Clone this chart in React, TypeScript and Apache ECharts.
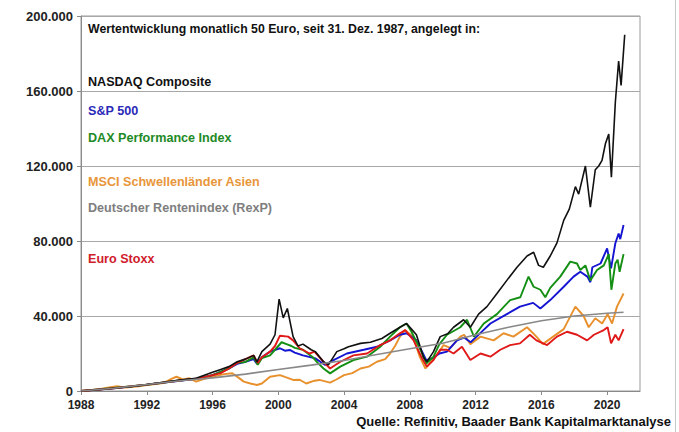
import React, { useEffect, useRef } from "react";
import * as echarts from "echarts";

// values in thousand euros, x = year (fractional)
const nasdaq: [number, number][] = [
  [1988.0, 0], [1989.0, 0.7], [1990.0, 1.5], [1991.0, 2.3], [1992.0, 3.5], [1993.0, 4.6], [1994.0, 5.8],
  [1995.0, 6.8], [1996.0, 10], [1996.5, 11.5], [1997.0, 13], [1997.5, 15.6], [1998.0, 17], [1998.5, 19],
  [1998.7, 15.5], [1999.0, 21], [1999.5, 25], [1999.8, 30], [2000.05, 49], [2000.3, 39], [2000.55, 44],
  [2000.9, 29], [2001.2, 24], [2001.5, 25], [2002.0, 22], [2002.25, 21], [2002.75, 15.6], [2003.05, 13.9],
  [2003.56, 21], [2004.0, 22.5], [2004.27, 23.6], [2005.0, 25.4], [2005.6, 26], [2006.3, 28], [2006.8, 30.8],
  [2007.4, 34], [2007.8, 36], [2008.1, 33], [2008.4, 30], [2008.83, 18], [2009.04, 15.6], [2009.44, 21],
  [2009.85, 29], [2010.3, 30.5], [2010.66, 34], [2011.27, 38], [2011.68, 34], [2012.18, 41], [2012.69, 45],
  [2013.3, 52], [2013.9, 59], [2014.52, 66], [2015.13, 72], [2015.53, 74], [2015.83, 67], [2016.12, 66],
  [2016.54, 72], [2016.95, 79], [2017.36, 91], [2017.7, 97], [2018.07, 109], [2018.27, 105], [2018.68, 120],
  [2018.98, 98], [2019.28, 118], [2019.49, 120], [2019.69, 123], [2019.9, 132], [2020.1, 137], [2020.26, 114],
  [2020.5, 154], [2020.7, 176], [2020.85, 163], [2021.07, 190],
];

const sp500: [number, number][] = [
  [1988, 0], [1990, 1.4], [1992, 3.4], [1994, 5.5], [1995, 6.5], [1996, 8.5], [1997, 12], [1997.5, 14.5],
  [1998.0, 15.5], [1998.5, 17], [1998.7, 14.5], [1999.0, 18], [1999.5, 21], [2000.1, 22.8], [2000.4, 21.5],
  [2000.7, 21.9], [2001.0, 20.5], [2001.5, 19], [2002.25, 17.4], [2002.85, 13.9], [2003.36, 16.5],
  [2004.17, 20], [2005.2, 22], [2006.0, 23.6], [2006.8, 27], [2007.4, 30], [2007.8, 30.8], [2008.4, 27],
  [2008.8, 20], [2009.0, 16.5], [2009.4, 17.5], [2009.8, 20], [2010.26, 21], [2010.87, 27], [2011.3, 28.5],
  [2011.7, 26], [2012.3, 31], [2012.9, 36], [2013.9, 41], [2014.7, 45], [2015.5, 47], [2015.94, 44],
  [2016.54, 48.5], [2017.36, 55.6], [2017.96, 61], [2018.37, 63.6], [2018.8, 61], [2018.98, 58],
  [2019.1, 66], [2019.6, 68], [2020.0, 76], [2020.24, 65.4], [2020.5, 78.8], [2020.7, 84], [2020.8, 81],
  [2021.0, 88.5],
];

const dax: [number, number][] = [
  [1988, 0], [1990, 1.6], [1992, 3.3], [1994, 5.6], [1995, 6.5], [1996, 8.5], [1997, 12], [1997.5, 15],
  [1998.0, 15.5], [1998.5, 18], [1998.75, 14], [1999.0, 17.5], [1999.5, 19], [1999.8, 22], [2000.2, 26],
  [2000.5, 25], [2000.8, 24], [2001.0, 23], [2001.5, 22], [2002.1, 18], [2002.4, 15], [2002.75, 12],
  [2003.15, 9.4], [2003.77, 13], [2004.57, 16.5], [2005.4, 18.3], [2006.2, 23.6], [2006.8, 29], [2007.4, 34],
  [2007.8, 36], [2008.1, 31.6], [2008.7, 21], [2009.0, 14.7], [2009.44, 18.3], [2009.8, 25], [2010.26, 30],
  [2011.07, 34], [2011.48, 38], [2011.9, 29], [2012.5, 36], [2013.3, 41], [2014.1, 48.5], [2014.72, 50],
  [2015.22, 61], [2015.53, 55.6], [2015.94, 54], [2016.24, 50], [2016.54, 55], [2017.15, 61], [2017.76, 69],
  [2018.17, 68], [2018.37, 64.5], [2018.68, 67], [2018.98, 59], [2019.39, 64.5], [2019.8, 67], [2020.1, 73],
  [2020.26, 54], [2020.5, 68], [2020.64, 70], [2020.76, 63.6], [2021.0, 73],
];

const msciAsia: [number, number][] = [
  [1988, 0], [1989, 0.8], [1989.8, 2], [1990.2, 2.5], [1990.7, 1.8], [1991.5, 2.5], [1992, 3.2], [1993, 4.2],
  [1993.5, 6.5], [1993.8, 7.6], [1994.2, 6.2], [1994.6, 6.8], [1995.0, 5], [1995.5, 6.5], [1996, 7.6],
  [1996.7, 9], [1997.2, 9.5], [1997.6, 7], [1997.9, 5], [1998.3, 4], [1998.7, 3.2], [1999.0, 4],
  [1999.5, 7.6], [2000.1, 8.5], [2000.4, 7.5], [2000.9, 5.9], [2001.3, 6], [2001.7, 4], [2002.2, 5.5],
  [2002.5, 5.9], [2003.15, 4.5], [2003.5, 6], [2004.0, 8.5], [2004.5, 9.5], [2005.0, 12], [2005.5, 13],
  [2006.0, 15.6], [2006.5, 17], [2006.8, 20], [2007.1, 24], [2007.4, 29], [2007.7, 32.5], [2008.2, 29],
  [2008.6, 18.3], [2008.95, 12], [2009.35, 16.5], [2009.8, 21], [2010.05, 24.5], [2010.46, 23],
  [2011.07, 29], [2011.3, 30], [2011.68, 25], [2012.3, 29], [2013.1, 27], [2013.7, 30.8], [2014.3, 29],
  [2015.13, 34], [2015.7, 29], [2016.1, 25], [2016.4, 27], [2017.36, 33], [2018.07, 45], [2018.57, 40],
  [2018.88, 34], [2019.28, 38.8], [2019.7, 36], [2020.03, 41], [2020.3, 36], [2020.6, 45], [2021.0, 52],
];

const rexp: [number, number][] = [
  [1988, 0], [1990, 1.5], [1992, 3.5], [1994, 5.5], [1996, 7], [1998, 9], [2000, 11.5], [2002, 13.8],
  [2004, 16.3], [2006, 19.5], [2008, 22.5], [2010, 25.5], [2012, 30], [2014, 34], [2016, 37.5],
  [2018, 40], [2020, 41.5], [2021, 42],
];

const euroStoxx: [number, number][] = [
  [1988, 0], [1990, 1.5], [1992, 3.4], [1994, 5.6], [1995, 6.5], [1996, 8.5], [1996.5, 9.5], [1997, 12],
  [1997.5, 15], [1998.0, 17], [1998.5, 19], [1998.75, 15], [1999.0, 18], [1999.5, 21], [1999.8, 24],
  [2000.1, 29.5], [2000.6, 29], [2000.9, 27], [2001.3, 22.8], [2001.9, 20], [2002.2, 21], [2002.75, 15.6],
  [2003.15, 12], [2003.77, 15.6], [2004.57, 19], [2005.4, 20], [2006.2, 24.5], [2006.8, 27], [2007.4, 30.8],
  [2007.72, 32.5], [2008.23, 27], [2008.74, 17.4], [2009.04, 13], [2009.44, 16.5], [2009.85, 22],
  [2010.26, 22], [2010.66, 20], [2011.17, 23.6], [2011.68, 16.5], [2012.3, 20], [2012.9, 18.3], [2013.5, 22],
  [2014.1, 24.5], [2014.7, 25.4], [2015.3, 30], [2015.7, 27], [2016.35, 24.5], [2016.95, 29], [2017.56, 31.6],
  [2018.17, 30], [2018.78, 27], [2019.2, 30], [2019.8, 32.5], [2020.03, 34], [2020.24, 25.4], [2020.5, 30],
  [2020.7, 27], [2021.0, 33],
];

const seriesNames = [
  "NASDAQ Composite",
  "S&P 500",
  "DAX Performance Index",
  "MSCI Schwellenländer Asien",
  "Deutscher Rentenindex (RexP)",
  "Euro Stoxx",
];
const titleText = "Wertentwicklung monatlich 50 Euro, seit 31. Dez. 1987, angelegt in:";
const sourceText = "Quelle: Refinitiv, Baader Bank Kapitalmarktanalyse";

const FONT = "'Liberation Sans', Arial, sans-serif";

const fmt = (v: number) => String(Math.round(v)).replace(/\B(?=(\d{3})+(?!\d))/g, ".");
const toEuro = (arr: [number, number][]) => arr.map(([x, y]) => [x, y * 1000]);

export default function App() {
  const ref = useRef<HTMLDivElement>(null);
  useEffect(() => {
    document.body.style.margin = "0";
    const chart = echarts.init(ref.current!, null, { renderer: "svg" });
    const mk = (name: string, data: [number, number][], color: string, width: number) => ({
      name,
      type: "line",
      data: toEuro(data),
      showSymbol: false,
      symbol: "none",
      lineStyle: { color, width },
      itemStyle: { color },
      emphasis: { disabled: true },
    });
    const label = (text: string, top: number, color: string, size = 12.6) => ({
      type: "text",
      left: 88,
      top,
      style: { text, fill: color, font: `bold ${size}px ${FONT}` },
    });
    chart.setOption({
      animation: false,
      backgroundColor: "#ffffff",
      grid: { left: 81, right: 39, top: 16, bottom: 41, show: true, borderColor: "#9a9a9a", borderWidth: 1 },
      xAxis: {
        type: "value",
        min: 1988,
        max: 2022,
        interval: 4,
        axisLine: { show: true, lineStyle: { color: "#8a8a8a" } },
        axisTick: { show: true, length: 4, lineStyle: { color: "#8a8a8a" } },
        splitLine: { show: false },
        axisLabel: {
          showMaxLabel: false,
          color: "#222",
          fontFamily: FONT,
          fontWeight: "bold",
          fontSize: 12,
          margin: 8,
          formatter: (v: number) => (v >= 2022 ? "" : String(v)),
        },
      },
      yAxis: {
        type: "value",
        min: 0,
        max: 200000,
        interval: 40000,
        axisLine: { show: true, lineStyle: { color: "#8a8a8a" } },
        axisTick: { show: true, length: 4, lineStyle: { color: "#8a8a8a" } },
        splitLine: { show: true, lineStyle: { color: "#a8a8a8", width: 1 } },
        axisLabel: {
          color: "#222",
          fontFamily: FONT,
          fontWeight: "bold",
          fontSize: 13,
          margin: 8,
          formatter: (v: number) => fmt(v),
        },
      },
      series: [
        mk(seriesNames[3], msciAsia, "#e8902c", 1.9),
        mk(seriesNames[1], sp500, "#1414d2", 1.9),
        mk(seriesNames[2], dax, "#138f13", 1.9),
        mk(seriesNames[5], euroStoxx, "#e01818", 1.9),
        mk(seriesNames[0], nasdaq, "#111111", 1.6),
        mk(seriesNames[4], rexp, "#888888", 1.6),
      ],
      graphic: [
        label(titleText, 23, "#111", 12.3),
        label(seriesNames[0], 75, "#111"),
        label(seriesNames[1], 104, "#2a2ab8"),
        label(seriesNames[2], 131, "#1e8a26"),
        label(seriesNames[3], 175, "#e8963a"),
        label(seriesNames[4], 201, "#7e7e7e"),
        label(seriesNames[5], 252, "#d0202c"),
        {
          type: "text",
          right: 8,
          top: 415,
          style: { text: sourceText, fill: "#111", font: `bold 13px ${FONT}` },
        },
        {
          type: "line",
          shape: { x1: 675.5, y1: 0, x2: 675.5, y2: 432 },
          style: { stroke: "#c8c8c8", lineWidth: 1 },
        },
      ],
    });
    return () => chart.dispose();
  }, []);
  return <div ref={ref} style={{ width: 679, height: 432, position: "absolute", left: 0, top: 0 }} />;
}
